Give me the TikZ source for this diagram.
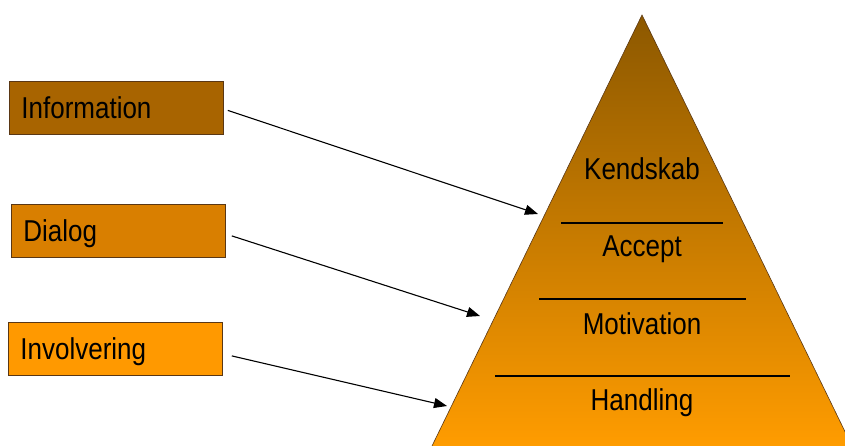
\documentclass[tikz,border=0pt]{standalone}
\usepackage{fontspec}
\setmainfont{Liberation Sans}
\usetikzlibrary{arrows.meta,calc}
\definecolor{cInfo}{RGB}{168,100,0}
\definecolor{cDia}{RGB}{217,127,0}
\definecolor{cInv}{RGB}{255,153,0}
\definecolor{pyTop}{RGB}{140,88,0}
\definecolor{pyBot}{RGB}{255,156,0}
\definecolor{edgeC}{RGB}{90,55,20}
\newcommand{\tallt}[1]{\scalebox{1}[1.16]{#1}}
\begin{document}
\begin{tikzpicture}[x=1pt,y=-1pt,
 box/.style={draw=edgeC, line width=0.8pt, minimum width=214pt, minimum height=53pt,
   inner xsep=11pt, text width=190pt, align=left, anchor=north west,
   text height=22pt, text depth=0pt,
   font=\fontsize{26}{30}\selectfont},
 lbl/.style={font=\fontsize{26}{30}\selectfont, text=black, inner sep=0pt, anchor=base},
 sepline/.style={line width=2.7pt, black},
 conn/.style={-{Triangle[length=13pt,width=10pt]}, line width=1.1pt}]
\useasboundingbox (0,0) rectangle (845,446);
\begin{scope}
\clip (0,0) rectangle (845,446);
\shade[top color=pyTop, bottom color=pyBot]
  (642,15) -- (432,446) -- (852,446) -- cycle;
\draw[edgeC, line width=0.6pt] (432,446) coordinate (bl) -- (642,15) coordinate (apex) -- (852,446) coordinate (br);
\end{scope}
% separators
\draw[sepline] (561,223) coordinate (s1a) -- (723,223) coordinate (s1b);
\draw[sepline] (539,299) coordinate (s2a) -- (746,299) coordinate (s2b);
\draw[sepline] (495,376) coordinate (s3a) -- (790,376) coordinate (s3b);
% labels
\node[lbl] (kend) at (642,180) {\tallt{Kendskab}};
\node[lbl] (acc) at (642,256.5) {\tallt{Accept}};
\node[lbl] (mot) at (642,334) {\tallt{Motivation}};
\node[lbl] (hand) at (642,410) {\tallt{Handling}};
% boxes
\node[box, fill=cInfo] (info) at (9,81) {\tallt{Information}};
\node[box, fill=cDia] (dia) at (11,204) {\tallt{Dialog}};
\node[box, fill=cInv] (inv) at (8,322) {\tallt{Involvering}};
% arrow targets on pyramid edge
\coordinate (t1) at (538,214);
\coordinate (t2) at (480,316);
\coordinate (t3) at (447,406);
\draw[conn] ($(info.east)+(4,2.5)$) -- (t1);
\draw[conn] ($(dia.east)+(6,5)$) -- (t2);
\draw[conn] ($(inv.east)+(9,7)$) -- (t3);
\end{tikzpicture}
\end{document}
